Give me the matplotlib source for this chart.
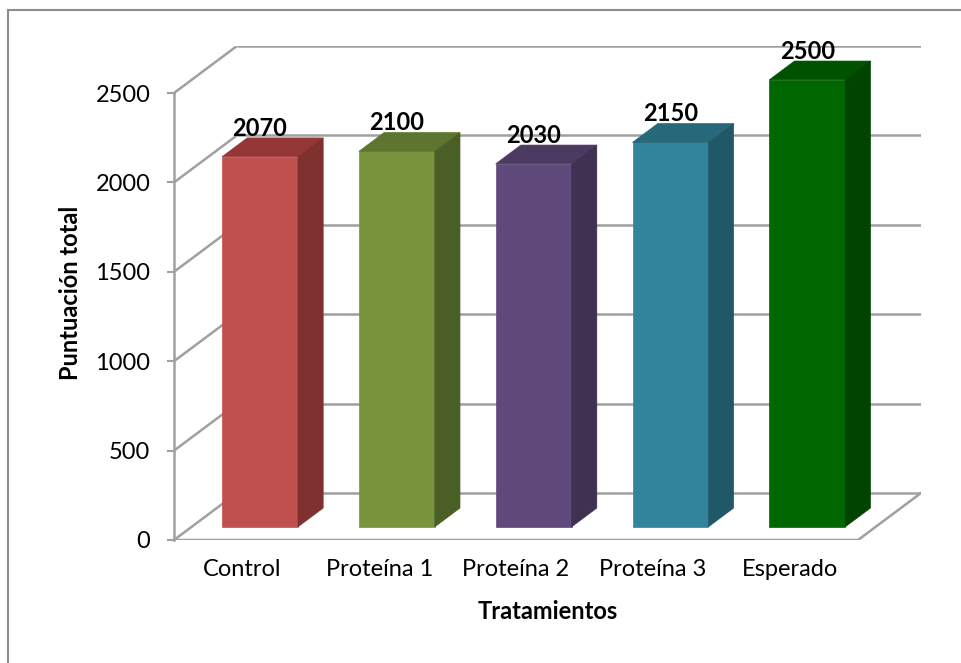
import matplotlib.pyplot as plt
from matplotlib.patches import Polygon, Rectangle

categories = ["Control", "Proteína 1", "Proteína 2", "Proteína 3", "Esperado"]
values = [2070, 2100, 2030, 2150, 2500]
yticks = [0, 500, 1000, 1500, 2000, 2500]

front_colors = ["#C0504D", "#7A943D", "#604A7B", "#31849B", "#006600"]
side_colors = ["#7F312F", "#4B5E25", "#3F3151", "#215868", "#004400"]
top_colors = ["#953735", "#5E7530", "#4B3B62", "#27687A", "#005200"]

plt.rcParams['font.family'] = ['Lato', 'DejaVu Sans']

# oblique depth of the 3D box, in data units (x, y)
DX, DY = 0.46, 263
f0, f1 = 0.28, 0.68   # bar front/back depth fractions
w = 0.555
ymax = yticks[-1]
grid = '#A0A0A0'

fig = plt.figure(figsize=(9.61, 6.63), dpi=100)
ax = fig.add_axes([174 / 961, 123 / 663, 747 / 961, 494 / 663])
ax.set_xlim(-0.5, len(categories) - 0.5 + DX)
ax.set_ylim(0, ymax + DY)

# walls: side wall diagonals + back wall gridlines
x0 = -0.5
x1 = len(categories) - 0.5
for t in yticks:
    ax.plot([x0, x0 + DX], [t, t + DY], color=grid, lw=1.8, zorder=1, solid_capstyle='butt')
    ax.plot([x0 + DX, x1 + DX], [t + DY, t + DY], color=grid, lw=1.8, zorder=1, solid_capstyle='butt')
# floor front edge and right diagonal
ax.plot([x0, x1, x1 + DX], [0, 0, DY], color=grid, lw=1.8, zorder=1)

# bars: front face, then top and right side in oblique projection
xs = [i + f0 * DX for i in range(len(categories))]
ax.bar(xs, values, width=w, bottom=f0 * DY, color=front_colors,
       edgecolor=front_colors, linewidth=0.5, zorder=3)
ddx, ddy = (f1 - f0) * DX, (f1 - f0) * DY
for x, v, sc, tc in zip(xs, values, side_colors, top_colors):
    xl, xr = x - w / 2, x + w / 2
    b, t = f0 * DY, v + f0 * DY
    ax.add_patch(Polygon([(xl, t), (xr, t), (xr + ddx, t + ddy), (xl + ddx, t + ddy)],
                         closed=True, facecolor=tc, edgecolor=tc, lw=0.5, zorder=3))
    ax.add_patch(Polygon([(xr, b), (xr, t), (xr + ddx, t + ddy), (xr + ddx, b + ddy)],
                         closed=True, facecolor=sc, edgecolor=sc, lw=0.5, zorder=3))
    ax.text(x, v + f1 * DY - 10, str(v), ha='center', va='bottom',
            fontsize=17, fontweight='bold', color='black', zorder=4)

for s in ['top', 'right', 'bottom']:
    ax.spines[s].set_visible(False)
ax.spines['left'].set_bounds(0, ymax)
ax.spines['left'].set_color(grid)
ax.spines['left'].set_linewidth(1.8)

ax.set_yticks(yticks)
ax.set_xticks(range(len(categories)))
ax.set_xticklabels(categories)
ax.tick_params(axis='y', length=5, width=1.5, color=grid, pad=12, labelsize=17)
ax.tick_params(axis='x', length=0, pad=14, labelsize=17)

ax.set_xlabel("Tratamientos", fontsize=17, fontweight='bold', labelpad=14)
ax.set_ylabel("Puntuación total", fontsize=17, fontweight='bold', labelpad=10)

# outer chart border
fig.add_artist(Rectangle((8 / 961, -0.1), 1.2, 1.1 - 10 / 663,
                         transform=fig.transFigure, fill=False,
                         edgecolor='#8C8C8C', lw=1.5))

fig.savefig("out.png", dpi=100)
